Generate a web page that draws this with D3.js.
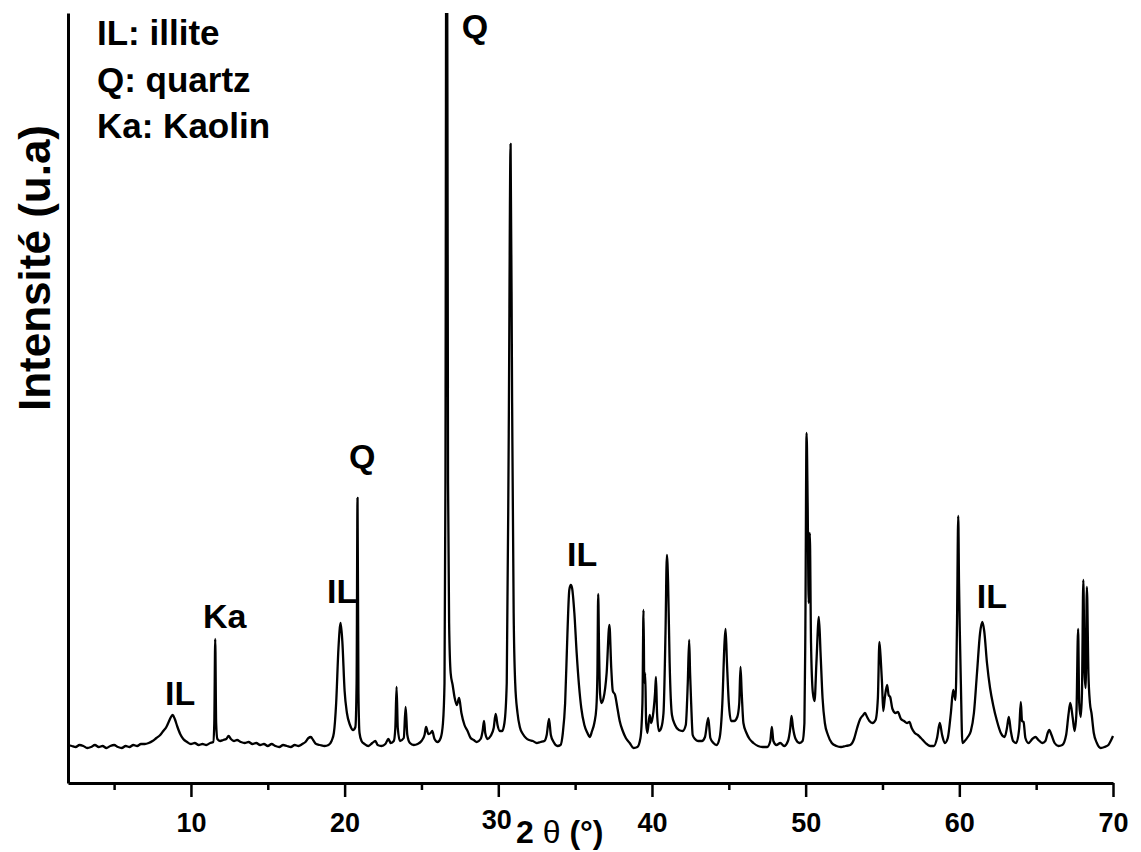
<!DOCTYPE html>
<html>
<head>
<meta charset="utf-8">
<script src="https://cdn.jsdelivr.net/npm/d3@7"></script>
<style>
	body { margin: 0; background: #fff; }
	svg text { font-family: "Liberation Sans", Arial, sans-serif; font-weight: bold; fill: #000; }
</style>
</head>
<body>
<svg id="chart" width="1141" height="852"></svg>
<script>
// diffractogram: [2θ (°), intensity (a.u.)]
var pattern = [
	[2.0, 38], [2.25, 37], [2.5, 36], [2.75, 38], [3.0, 37], [3.25, 35], [3.5, 36], [3.75, 38], [4.0, 36], [4.25, 37],
	[4.5, 35], [4.75, 37], [5.0, 38], [5.25, 36], [5.5, 35], [5.75, 37], [6.0, 36], [6.25, 38], [6.5, 37], [6.75, 39],
	[7.0, 39], [7.25, 40], [7.5, 42], [7.75, 45], [8.0, 48], [8.2, 52], [8.4, 56], [8.55, 61], [8.7, 66], [8.82, 68],
	[8.95, 64], [9.1, 57], [9.3, 49], [9.5, 44], [9.75, 41], [10.0, 39], [10.25, 40], [10.5, 38], [10.75, 39], [11.0, 38],
	[11.25, 40], [11.45, 41], [11.52, 60], [11.58, 144], [11.64, 60], [11.72, 44], [11.9, 42], [12.1, 43], [12.3, 44], [12.45, 47],
	[12.6, 44], [12.8, 42], [13.0, 43], [13.25, 41], [13.5, 40], [13.75, 41], [14.0, 39], [14.25, 40], [14.5, 38], [14.75, 39],
	[15.0, 37], [15.25, 39], [15.5, 37], [15.75, 36], [16.0, 38], [16.25, 37], [16.5, 36], [16.75, 38], [17.0, 37], [17.25, 39],
	[17.45, 41], [17.65, 45], [17.8, 46], [17.95, 43], [18.15, 39], [18.4, 38], [18.7, 37], [18.95, 38], [19.15, 42], [19.3, 50],
	[19.45, 80], [19.6, 135], [19.74, 160], [19.85, 142], [20.0, 92], [20.15, 70], [20.35, 58], [20.55, 53], [20.7, 56], [20.78, 100],
	[20.84, 285], [20.9, 90], [20.97, 50], [21.1, 42], [21.3, 39], [21.55, 37], [21.8, 40], [22.0, 42], [22.15, 38], [22.4, 37],
	[22.65, 39], [22.85, 44], [23.0, 40], [23.2, 42], [23.3, 55], [23.38, 96], [23.46, 55], [23.6, 42], [23.85, 45], [23.97, 76],
	[24.08, 48], [24.25, 40], [24.5, 38], [24.75, 39], [25.0, 42], [25.2, 48], [25.3, 56], [25.45, 49], [25.6, 50], [25.7, 52],
	[25.85, 44], [26.05, 41], [26.25, 45], [26.4, 60], [26.5, 100], [26.56, 300], [26.64, 1100], [26.73, 300], [26.8, 160], [26.9, 110],
	[27.03, 98], [27.15, 86], [27.3, 78], [27.45, 85], [27.6, 70], [27.8, 58], [28.0, 52], [28.2, 45], [28.4, 43], [28.6, 41],
	[28.85, 44], [28.98, 52], [29.07, 62], [29.15, 50], [29.3, 44], [29.5, 47], [29.7, 55], [29.83, 69], [29.95, 58], [30.1, 52],
	[30.25, 52], [30.4, 60], [30.55, 100], [30.68, 350], [30.8, 639], [30.9, 380], [31.0, 170], [31.1, 100], [31.25, 70], [31.4, 56],
	[31.6, 49], [31.8, 45], [32.0, 43], [32.25, 42], [32.5, 40], [32.75, 41], [33.0, 42], [33.15, 48], [33.3, 64], [33.42, 48],
	[33.6, 41], [33.85, 37], [34.05, 38], [34.2, 50], [34.35, 80], [34.5, 150], [34.62, 193], [34.72, 198], [34.8, 195], [34.95, 170],
	[35.1, 130], [35.25, 98], [35.4, 75], [35.6, 58], [35.8, 50], [35.95, 46], [36.1, 52], [36.25, 60], [36.38, 75], [36.45, 110],
	[36.5, 189], [36.56, 130], [36.62, 90], [36.7, 80], [36.85, 85], [37.05, 110], [37.23, 158], [37.35, 115], [37.45, 92], [37.6, 88],
	[37.75, 75], [37.9, 62], [38.1, 52], [38.3, 45], [38.55, 40], [38.8, 35], [39.05, 36], [39.25, 45], [39.38, 80], [39.45, 173],
	[39.5, 100], [39.56, 110], [39.62, 60], [39.7, 50], [39.85, 68], [39.95, 60], [40.1, 72], [40.2, 90], [40.26, 106], [40.33, 70],
	[40.45, 52], [40.6, 55], [40.75, 70], [40.88, 150], [40.97, 228], [41.05, 200], [41.15, 120], [41.3, 68], [41.5, 58], [41.75, 53],
	[42.0, 52], [42.2, 58], [42.33, 100], [42.42, 143], [42.48, 110], [42.55, 80], [42.65, 48], [42.8, 44], [43.0, 42], [43.25, 42],
	[43.45, 46], [43.66, 65], [43.8, 45], [44.0, 40], [44.2, 38], [44.4, 45], [44.58, 80], [44.72, 140], [44.79, 154], [44.88, 120],
	[45.0, 80], [45.15, 62], [45.35, 62], [45.55, 66], [45.68, 80], [45.76, 116], [45.84, 90], [45.95, 60], [46.15, 50], [46.35, 44],
	[46.6, 40], [46.9, 37], [47.2, 36], [47.5, 36], [47.7, 42], [47.8, 56], [47.9, 42], [48.1, 38], [48.35, 40], [48.6, 37],
	[48.85, 42], [49.0, 55], [49.08, 67], [49.18, 55], [49.35, 44], [49.6, 40], [49.8, 42], [49.92, 60], [49.98, 150], [50.06, 350],
	[50.13, 280], [50.2, 180], [50.27, 250], [50.35, 140], [50.47, 90], [50.58, 82], [50.7, 120], [50.86, 166], [50.97, 130], [51.1, 85],
	[51.25, 60], [51.45, 48], [51.7, 40], [52.0, 37], [52.3, 36], [52.6, 37], [52.9, 38], [53.15, 44], [53.35, 55], [53.55, 64],
	[53.75, 68], [53.86, 70], [54.0, 66], [54.15, 62], [54.35, 60], [54.55, 63], [54.7, 85], [54.8, 141], [54.9, 120], [54.97, 100],
	[55.05, 72], [55.15, 85], [55.3, 98], [55.4, 88], [55.5, 86], [55.65, 74], [55.85, 70], [56.0, 71], [56.2, 64], [56.4, 62],
	[56.6, 60], [56.75, 61], [56.9, 55], [57.1, 50], [57.3, 48], [57.5, 45], [57.8, 40], [58.1, 37], [58.35, 37], [58.55, 45],
	[58.73, 60], [58.88, 48], [59.06, 40], [59.25, 45], [59.45, 70], [59.6, 93], [59.75, 83], [59.85, 160], [59.93, 267], [59.98, 200],
	[60.03, 153], [60.1, 100], [60.2, 40], [60.35, 42], [60.55, 46], [60.75, 52], [60.95, 70], [61.15, 110], [61.35, 150], [61.5, 161],
	[61.62, 152], [61.8, 120], [62.0, 95], [62.2, 78], [62.45, 62], [62.7, 50], [62.95, 46], [63.1, 55], [63.22, 66], [63.35, 52],
	[63.5, 42], [63.7, 40], [63.9, 55], [64.0, 81], [64.08, 62], [64.18, 61], [64.3, 45], [64.5, 40], [64.75, 44], [64.95, 46],
	[65.15, 43], [65.4, 40], [65.6, 42], [65.75, 50], [65.85, 53], [66.0, 48], [66.2, 40], [66.45, 37], [66.7, 38], [66.95, 48],
	[67.1, 68], [67.22, 80], [67.38, 65], [67.5, 52], [67.62, 70], [67.73, 154], [67.8, 80], [67.9, 66], [67.98, 90], [68.07, 203],
	[68.15, 110], [68.22, 95], [68.3, 196], [68.4, 110], [68.5, 80], [68.6, 70], [68.75, 50], [68.95, 40], [69.2, 35], [69.45, 36],
	[69.7, 38], [69.85, 42], [70.0, 47]
];

var majorTicks = [10, 20, 30, 40, 50, 60, 70];
var minorTicks = [5, 15, 25, 35, 45, 55, 65];

// phase labels, anchored at their lower-left corner in data units
var peakNames = ["IL", "Ka", "IL", "Q", "Q", "IL", "IL"];
var peakTheta = [8.31, 10.78, 18.85, 20.28, 27.63, 34.47, 61.14];
var peakLevel = [78, 155, 180, 315, 745, 217, 175];

var legendLines = ["IL: illite", "Q: quartz", "Ka: Kaolin"];

(function() {
	var LEFT = 68, RIGHT = 1113, TOP = 13, BOTTOM = 783;

	var svg = d3.select("#chart");

	var x = d3.scaleLinear().domain([2, 70]).range([LEFT, RIGHT]);
	var y = d3.scaleLinear().domain([0, 770]).range([BOTTOM, TOP]);

	svg.append("defs").append("clipPath")
		.attr("id", "plot-area")
		.append("rect")
		.attr("x", LEFT - 5)
		.attr("y", TOP)
		.attr("width", RIGHT - LEFT + 10)
		.attr("height", BOTTOM - TOP);

	var line = d3.line()
		.curve(d3.curveMonotoneX)
		.x(function(d) { return x(d[0]); })
		.y(function(d) { return y(d[1]); });

	svg.append("path")
		.datum(pattern)
		.attr("clip-path", "url(#plot-area)")
		.attr("d", line)
		.style("fill", "none")
		.style("stroke", "#000")
		.style("stroke-width", 2.3)
		.style("stroke-linejoin", "round");

	// minor ticks first, major axis on top
	var minorAxis = svg.append("g")
		.attr("transform", "translate(0," + BOTTOM + ")")
		.call(d3.axisBottom(x).tickValues(minorTicks).tickSize(7).tickFormat(""));
	minorAxis.select(".domain").remove();
	minorAxis.selectAll("line").style("stroke-width", 2.5);

	var xAxis = svg.append("g")
		.attr("transform", "translate(0," + BOTTOM + ")")
		.call(d3.axisBottom(x).tickValues(majorTicks).tickSize(14).tickSizeOuter(0).tickFormat(d3.format("d")));
	xAxis.select(".domain").style("stroke-width", 3);
	xAxis.selectAll("line").style("stroke-width", 2.5);
	xAxis.selectAll("text")
		.attr("y", 49)
		.attr("dy", 0)
		.style("font-size", "27px")
		.style("font-family", "'Liberation Sans', Arial, sans-serif")
		.style("font-weight", "bold");

	// "30" is pushed up a touch by the title next to it
	xAxis.selectAll(".tick text")
		.filter(function(d) { return d === 30; })
		.attr("y", 46)
		.attr("dx", -2);

	var yAxis = svg.append("g")
		.attr("transform", "translate(" + LEFT + ",0)")
		.call(d3.axisLeft(y).tickValues([]).tickSizeOuter(0));
	yAxis.select(".domain").style("stroke-width", 3);

	// axis titles
	var xTitle = svg.append("text")
		.attr("x", 516)
		.attr("y", 843)
		.style("font-size", "32px");
	xTitle.append("tspan").text("2 ");
	xTitle.append("tspan").text("θ").style("font-weight", "normal");
	xTitle.append("tspan").text(" (°)");

	svg.append("text")
		.attr("transform", "translate(50,268) rotate(-90)")
		.attr("text-anchor", "middle")
		.style("font-size", "44px")
		.text("Intensité (u.a)");

	// phase labels
	svg.selectAll("text.peak")
		.data(peakNames)
		.enter().append("text")
		.attr("class", "peak")
		.attr("x", function(d, i) { return x(peakTheta[i]); })
		.attr("y", function(d, i) { return y(peakLevel[i]); })
		.style("font-size", "34px")
		.text(function(d) { return d; });

	svg.selectAll("text.legend")
		.data(legendLines)
		.enter().append("text")
		.attr("class", "legend")
		.attr("x", 97)
		.attr("y", function(d, i) { return 45 + i * 46.5; })
		.style("font-size", "35px")
		.text(function(d) { return d; });
}());
</script>
</body>
</html>
